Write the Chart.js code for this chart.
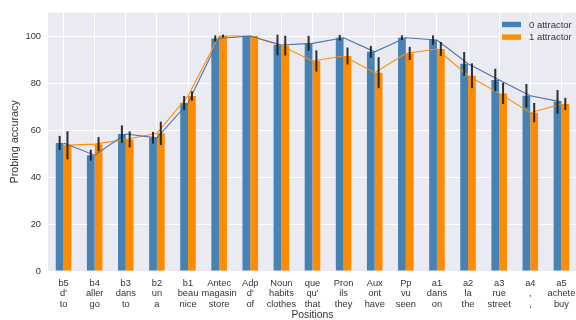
<!DOCTYPE html>
<html>
<head>
<meta charset="utf-8">
<script src="https://cdn.jsdelivr.net/npm/chart.js@4/dist/chart.umd.min.js"></script>
<style>
  html, body { margin: 0; padding: 0; background: #ffffff; overflow: hidden; }
  #wrap { width: 576px; height: 320px; overflow: hidden; }
  canvas { display: block; }
</style>
</head>
<body>
<div id="wrap"><canvas id="chart" width="582" height="320"></canvas></div>
<script>
// Position codes and the French / English tokens shown under each group
const positionCodes = ['b5', 'b4', 'b3', 'b2', 'b1', 'Antec', 'Adp', 'Noun', 'que', 'Pron', 'Aux', 'Pp', 'a1', 'a2', 'a3', 'a4', 'a5'];
const frenchWords   = ["d'", 'aller', 'dans', 'un', 'beau', 'magasin', "d'", 'habits', "qu'", 'ils', 'ont', 'vu', 'dans', 'la', 'rue', ',', 'achete'];
const englishWords  = ['to', 'go', 'to', 'a', 'nice', 'store', 'of', 'clothes', 'that', 'they', 'have', 'seen', 'on', 'the', 'street', ',', 'buy'];

// Probing accuracy (%) and error half-widths per position
const seriesNames = ['0 attractor', '1 attractor'];
const acc0 = [54.5, 49.3, 58.3, 56.7, 71.5, 99.0, 100, 96.2, 96.9, 99.3, 93.3, 99.3, 98.3, 88.2, 81.3, 74.6, 72.0];
const err0 = [3.0, 2.3, 3.7, 2.5, 3.0, 1.3, 0, 4.4, 3.2, 1.2, 2.5, 1.0, 2.0, 5.0, 4.8, 5.0, 5.0];
const acc1 = [53.5, 54.0, 56.0, 58.6, 74.5, 100, 100, 95.9, 89.4, 91.5, 84.4, 92.6, 94.5, 83.1, 75.6, 67.4, 71.1];
const err1 = [6.0, 3.0, 3.4, 5.0, 2.0, 0.6, 0, 4.2, 4.5, 3.6, 6.6, 2.8, 3.0, 5.3, 4.5, 4.1, 2.6];

const yTicks = [0, 20, 40, 60, 80, 100];

const labels = positionCodes.map((c, i) => [c, frenchWords[i], englishWords[i]]);

const BLUE = '#4682b4';
const ORANGE = '#ff8c00';
const FONT = '"Liberation Sans", Arial, sans-serif';
const TEXT = '#333333';

// Grey plot background behind the data
const plotBackground = {
  id: 'plotBackground',
  beforeDraw(chart) {
    const { ctx, chartArea: a } = chart;
    ctx.save();
    ctx.fillStyle = '#eaeaf2';
    ctx.fillRect(a.left, a.top, a.right - a.left, a.bottom - a.top);
    ctx.restore();
  }
};

// Vertical error bars centred on each bar
const errorBars = {
  id: 'errorBars',
  afterDatasetsDraw(chart) {
    const { ctx } = chart;
    const y = chart.scales.y;
    ctx.save();
    ctx.strokeStyle = 'rgba(25,25,25,0.9)';
    ctx.lineWidth = 2;
    chart.data.datasets.forEach((ds, di) => {
      if (!ds.errors) return;
      const meta = chart.getDatasetMeta(di);
      meta.data.forEach((el, i) => {
        const e = ds.errors[i];
        if (!e) return;
        const v = ds.data[i];
        ctx.beginPath();
        ctx.moveTo(el.x, y.getPixelForValue(v + e));
        ctx.lineTo(el.x, y.getPixelForValue(v - e));
        ctx.stroke();
      });
    });
    ctx.restore();
  }
};

// Legend box in the upper-right corner of the plot
const cornerLegend = {
  id: 'cornerLegend',
  afterDraw(chart) {
    const { ctx } = chart;
    const entries = chart.data.datasets.filter(d => d.type === 'bar');
    ctx.save();
    ctx.font = '9.5px ' + FONT;
    ctx.textBaseline = 'middle';
    ctx.textAlign = 'left';
    entries.forEach((d, i) => {
      const cy = 24.5 + i * 12.6;
      ctx.fillStyle = d.backgroundColor;
      ctx.fillRect(502, cy - 2.7, 19, 5.4);
      ctx.fillStyle = TEXT;
      ctx.fillText(d.label, 529, cy + 0.5);
    });
    ctx.restore();
  }
};

new Chart(document.getElementById('chart'), {
  data: {
    labels: labels,
    datasets: [
      { type: 'bar', label: seriesNames[0], data: acc0, errors: err0, backgroundColor: BLUE, order: 2,
        categoryPercentage: 0.5, barPercentage: 1.0 },
      { type: 'bar', label: seriesNames[1], data: acc1, errors: err1, backgroundColor: ORANGE, order: 2,
        categoryPercentage: 0.5, barPercentage: 1.0 },
      { type: 'line', label: seriesNames[0] + ' trend', data: acc0, borderColor: '#4c72b0', borderWidth: 1.1,
        pointRadius: 0, tension: 0, fill: false, order: 1 },
      { type: 'line', label: seriesNames[1] + ' trend', data: acc1, borderColor: ORANGE, borderWidth: 1.1,
        pointRadius: 0, tension: 0, fill: false, order: 1 }
    ]
  },
  options: {
    responsive: false,
    animation: false,
    layout: { padding: { top: 12, right: 1, left: 0, bottom: 0 } },
    plugins: { legend: { display: false }, tooltip: { enabled: false } },
    scales: {
      x: {
        offset: true,
        grid: { color: '#ffffff', lineWidth: 1, offset: false, drawTicks: false },
        border: { display: false },
        ticks: { color: TEXT, font: { family: FONT, size: 9.3, lineHeight: 1.15 }, padding: 6.6, maxRotation: 0, autoSkip: false },
        title: { display: true, text: 'Positions', color: TEXT, font: { family: FONT, size: 10.4, lineHeight: 1 }, padding: { top: 0, bottom: 0 } },
        afterFit(scale) { scale.height = 49; }
      },
      y: {
        min: 0,
        max: 110,
        grid: { color: '#ffffff', lineWidth: 1, drawTicks: false },
        border: { display: false },
        ticks: { color: TEXT, font: { family: FONT, size: 9.3 }, padding: 7, stepSize: 20 },
        afterBuildTicks(scale) { scale.ticks = yTicks.map(v => ({ value: v })); },
        title: { display: true, text: 'Probing accuracy', color: TEXT, font: { family: FONT, size: 10.8, lineHeight: 1.2 }, padding: { top: 8.5, bottom: 0 } },
        afterFit(scale) { scale.width = 48; }
      }
    }
  },
  plugins: [plotBackground, errorBars, cornerLegend]
});
</script>
</body>
</html>
